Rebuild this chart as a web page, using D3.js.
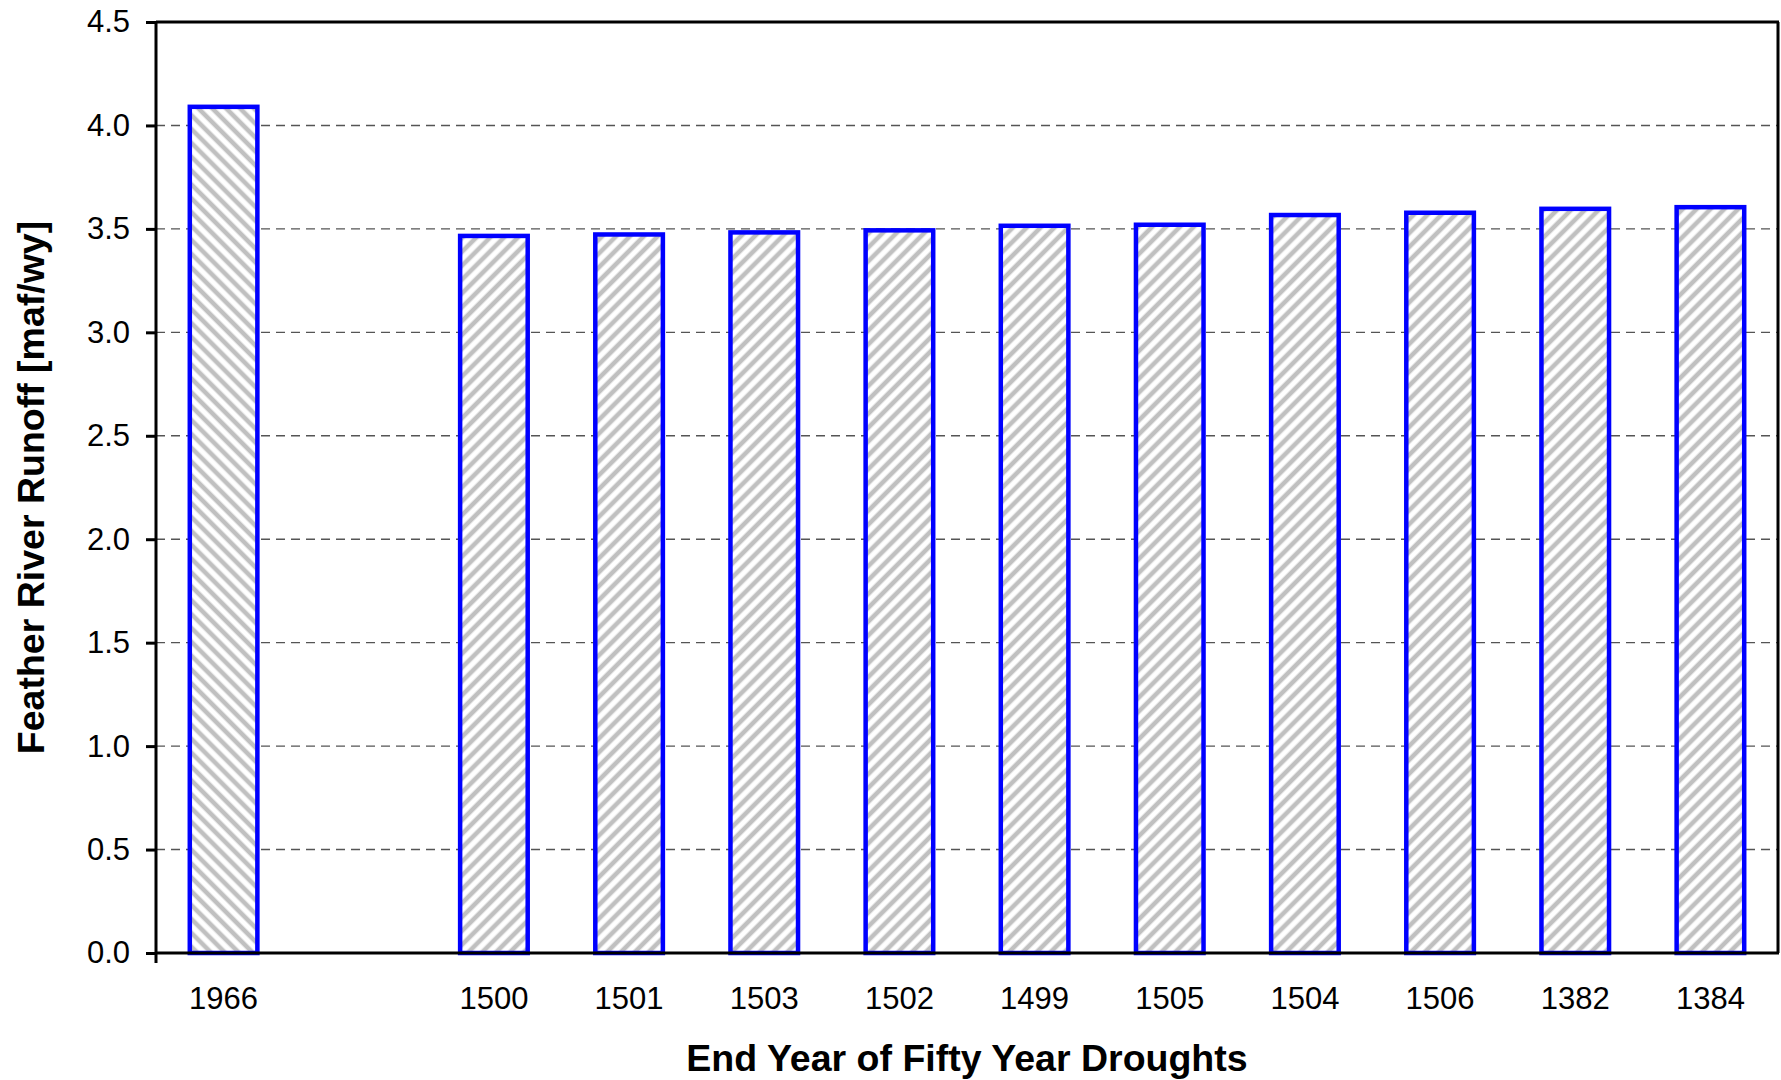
<!DOCTYPE html>
<html>
<head>
<meta charset="utf-8">
<script src="https://cdn.jsdelivr.net/npm/d3@7"></script>
<style>
  html, body { margin: 0; padding: 0; background: #fff; }
  svg { display: block; }
  text { font-family: Arial, "Liberation Sans", sans-serif; }
</style>
</head>
<body>
<svg id="chart" width="1781" height="1080"></svg>
<script>
// ---- data ----
const categories = ["1966", "", "1500", "1501", "1503", "1502", "1499", "1505", "1504", "1506", "1382", "1384"];
const runoff = [4.09, null, 3.466, 3.473, 3.483, 3.493, 3.515, 3.52, 3.567, 3.578, 3.597, 3.605];
const hatchDir = ["back", null, "fwd", "fwd", "fwd", "fwd", "fwd", "fwd", "fwd", "fwd", "fwd", "fwd"];
const yTicks = [0, 0.5, 1.0, 1.5, 2.0, 2.5, 3.0, 3.5, 4.0, 4.5];
const xTitle = "End Year of Fifty Year Droughts";
const yTitle = "Feather River Runoff [maf/wy]";

const W = 1781, H = 1080;
const m = { left: 156, right: 3, top: 22, bottom: 127 };
const x0 = m.left, x1 = W - m.right, y0 = H - m.bottom, y1 = m.top;

const svg = d3.select("#chart");

// patterns
const defs = svg.append("defs");
function hatch(id, angle) {
  const s = 9.8;
  const p = defs.append("pattern")
    .attr("id", id)
    .attr("patternUnits", "userSpaceOnUse")
    .attr("width", s).attr("height", s)
    .attr("patternTransform", `rotate(${angle})`);
  p.append("rect").attr("width", s).attr("height", s).attr("fill", "#ffffff");
  p.append("line").attr("x1", s / 2).attr("x2", s / 2).attr("y1", -1).attr("y2", s + 1)
    .attr("stroke", "#c0c0c0").attr("stroke-width", 4.6);
}
hatch("hatch-fwd", 45);
hatch("hatch-back", -45);

const data = categories.map((c, i) => ({ cat: c, v: runoff[i], dir: hatchDir[i] }));

const x = d3.scaleBand().domain(categories).range([x0, x1]).paddingInner(0.5).paddingOuter(0.25);
const y = d3.scaleLinear().domain([0, 4.5]).range([y0, y1]);

// gridlines
svg.append("g")
  .selectAll("line")
  .data(yTicks.filter(t => t > 0 && t < 4.5))
  .join("line")
  .attr("x1", x0).attr("x2", x1)
  .attr("y1", d => y(d)).attr("y2", d => y(d))
  .attr("stroke", "#555")
  .attr("stroke-width", 1.4)
  .attr("stroke-dasharray", "9,6");

// bars
svg.append("g")
  .selectAll("rect")
  .data(data.filter(d => d.v != null))
  .join("rect")
  .attr("x", d => x(d.cat))
  .attr("width", x.bandwidth())
  .attr("y", d => y(d.v))
  .attr("height", d => y(0) - y(d.v))
  .attr("fill", d => `url(#hatch-${d.dir})`)
  .attr("stroke", "#0000ff")
  .attr("stroke-width", 4.5);

// frame: top and right borders
svg.append("line").attr("x1", x0).attr("x2", x1 + 1).attr("y1", y1).attr("y2", y1)
  .attr("stroke", "#000").attr("stroke-width", 3);
svg.append("line").attr("x1", x1).attr("x2", x1).attr("y1", y1).attr("y2", y0)
  .attr("stroke", "#000").attr("stroke-width", 3);

// x axis
const xAxis = svg.append("g")
  .attr("transform", `translate(0,${y0})`)
  .call(d3.axisBottom(x).tickSize(0).tickPadding(34).tickFormat(d => d));
xAxis.select(".domain").remove();
xAxis.append("line").attr("x1", x0).attr("x2", x1 + 1).attr("y1", 0).attr("y2", 0)
  .attr("stroke", "#000").attr("stroke-width", 3);
xAxis.selectAll("text").attr("font-size", 31).attr("fill", "#000")
  .style("font-family", "Arial, 'Liberation Sans', sans-serif");

// y axis
const yAxis = svg.append("g")
  .attr("transform", `translate(${x0},0)`)
  .call(d3.axisLeft(y).tickValues(yTicks).tickSize(10).tickSizeOuter(0).tickPadding(16).tickFormat(d3.format(".1f")));
yAxis.select(".domain").remove();
yAxis.append("line").attr("x1", 0).attr("x2", 0).attr("y1", y1 - 1).attr("y2", y0 + 10)
  .attr("stroke", "#000").attr("stroke-width", 3);
yAxis.selectAll(".tick line").attr("stroke", "#000").attr("stroke-width", 3);
yAxis.selectAll("text").attr("font-size", 31).attr("fill", "#000")
  .style("font-family", "Arial, 'Liberation Sans', sans-serif");

// titles
svg.append("text")
  .attr("x", (x0 + x1) / 2).attr("y", 1071)
  .attr("text-anchor", "middle")
  .attr("font-size", 37.5).attr("font-weight", "bold").attr("fill", "#000")
  .text(xTitle);

svg.append("text")
  .attr("transform", `translate(44,${(y0 + y1) / 2}) rotate(-90)`)
  .attr("text-anchor", "middle")
  .attr("font-size", 37.5).attr("font-weight", "bold").attr("fill", "#000")
  .text(yTitle);
</script>
</body>
</html>
